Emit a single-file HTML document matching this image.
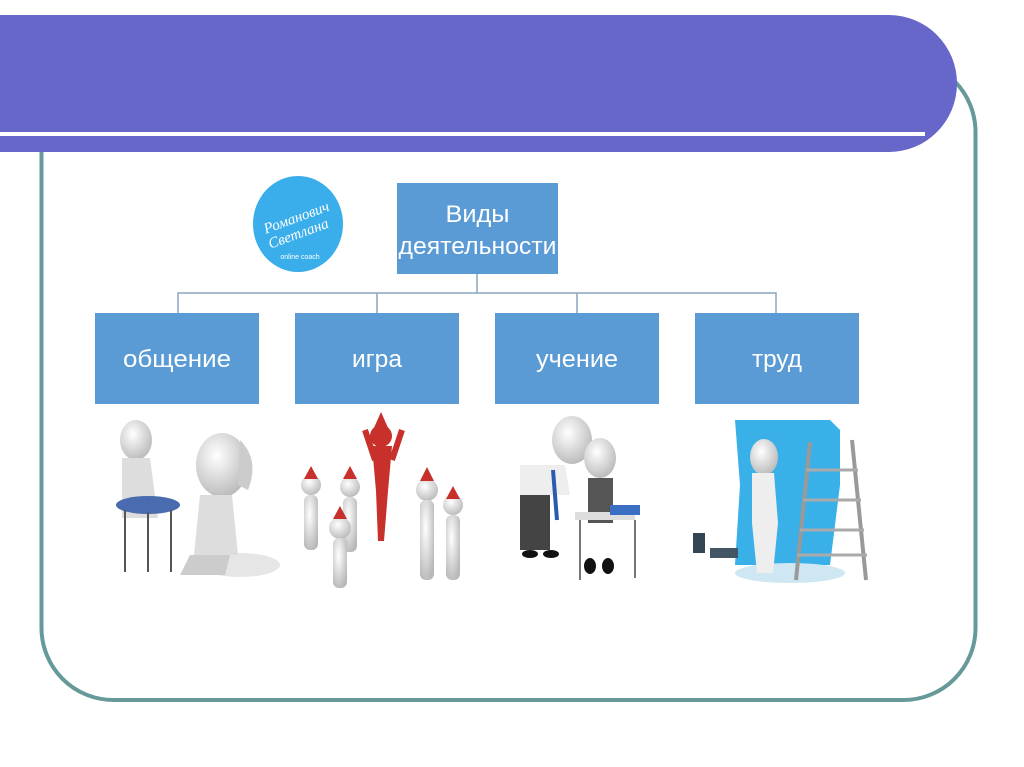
<!DOCTYPE html>
<html><head><meta charset="utf-8"><style>
html,body{margin:0;padding:0;background:#fff;width:1024px;height:767px;overflow:hidden;font-family:"Liberation Sans",sans-serif}
</style></head><body>
<svg width="1024" height="767" viewBox="0 0 1024 767" xmlns="http://www.w3.org/2000/svg">
<defs>
<radialGradient id="g" cx="0.4" cy="0.35" r="0.7"><stop offset="0" stop-color="#fff"/><stop offset="1" stop-color="#b8b8b8"/></radialGradient>
</defs>
<rect x="41.5" y="60" width="934" height="640" rx="72" fill="none" stroke="#66999a" stroke-width="4"/>
<path d="M0 15 H889 A68 68.5 0 0 1 889 152 H0 Z" fill="#6767c9"/>
<rect x="0" y="132" width="925" height="4" fill="#fff"/>
<!-- logo -->
<ellipse cx="298" cy="224" rx="45" ry="48" fill="#3aaeea"/>
<text x="298" y="222" fill="#fff" font-family="Liberation Serif" font-style="italic" font-size="15" text-anchor="middle" transform="rotate(-20 298 222)">Романович</text>
<text x="300" y="238" fill="#fff" font-family="Liberation Serif" font-style="italic" font-size="15" text-anchor="middle" transform="rotate(-20 300 238)">Светлана</text>
<text x="300" y="259" fill="#fff" font-size="7" text-anchor="middle">online coach</text>
<!-- tree -->
<rect x="397" y="183" width="161" height="91" fill="#5b9bd5"/>
<text x="477.5" y="222" fill="#fff" font-size="24" text-anchor="middle" textLength="64" lengthAdjust="spacingAndGlyphs">Виды</text>
<text x="477.5" y="254" fill="#fff" font-size="24" text-anchor="middle" textLength="158" lengthAdjust="spacingAndGlyphs">деятельности</text>
<g stroke="#8aa6bd" stroke-width="1.5" fill="none">
<path d="M477 274V293M178 313V293H776V313M377 293V313M577 293V313"/>
</g>
<g fill="#5b9bd5">
<rect x="95" y="313" width="164" height="91"/><rect x="295" y="313" width="164" height="91"/>
<rect x="495" y="313" width="164" height="91"/><rect x="695" y="313" width="164" height="91"/>
</g>
<g fill="#fff" font-size="24" text-anchor="middle">
<text x="177" y="367" textLength="108" lengthAdjust="spacingAndGlyphs">общение</text><text x="377" y="367" textLength="50" lengthAdjust="spacingAndGlyphs">игра</text>
<text x="577" y="367" textLength="82" lengthAdjust="spacingAndGlyphs">учение</text><text x="777" y="367" textLength="50" lengthAdjust="spacingAndGlyphs">труд</text>
</g>
<!-- figures: communication -->
<g>
<ellipse cx="240" cy="565" rx="40" ry="12" fill="#e6e6e6"/>
<ellipse cx="136" cy="440" rx="16" ry="20" fill="url(#g)"/>
<path d="M122 458 h28 l8 60 h-36z" fill="#ddd"/>
<ellipse cx="148" cy="505" rx="32" ry="9" fill="#4a6bb0"/>
<path d="M148 512 v60 M125 510 v62 M171 510 v62" stroke="#555" stroke-width="2"/>
<ellipse cx="222" cy="465" rx="26" ry="32" fill="url(#g)"/>
<path d="M240 440 q20 20 8 50 l-10 -5z" fill="#ccc"/>
<path d="M200 495 h32 l6 60 h-44z" fill="#ddd"/>
<path d="M190 555 h40 l-5 20 h-45z" fill="#ccc"/>
</g>
<!-- play -->
<g fill="url(#g)">
<circle cx="311" cy="485" r="10"/><rect x="304" y="495" width="14" height="55" rx="6"/>
<circle cx="350" cy="487" r="10"/><rect x="343" y="497" width="14" height="55" rx="6"/>
<circle cx="340" cy="528" r="11"/><rect x="333" y="538" width="14" height="50" rx="6"/>
<circle cx="427" cy="490" r="11"/><rect x="420" y="500" width="14" height="80" rx="6"/>
<circle cx="453" cy="505" r="10"/><rect x="446" y="515" width="14" height="65" rx="6"/>
</g>
<g fill="#c8302c">
<circle cx="381" cy="436" r="11"/><path d="M372 446 h20 l-4 45 l-4 50 h-6 l-2 -50z"/>
<path d="M365 430 l10 30 M402 430 l-10 30" stroke="#c8302c" stroke-width="6"/>
<path d="M381 412 l-8 18 h16z"/><path d="M311 466 l-7 13 h14z"/><path d="M350 466 l-7 13 h14z"/>
<path d="M340 506 l-7 13 h14z"/><path d="M427 467 l-7 14 h14z"/><path d="M453 486 l-7 13 h14z"/>
</g>
<!-- study -->
<g>
<ellipse cx="572" cy="440" rx="20" ry="24" fill="url(#g)"/>
<ellipse cx="600" cy="458" rx="16" ry="20" fill="url(#g)"/>
<path d="M520 465 h45 l5 30 h-50z" fill="#eee"/>
<path d="M520 495 h30 v55 h-30z" fill="#444"/>
<path d="M553 470 l4 50" stroke="#2a5cad" stroke-width="4"/>
<path d="M588 478 h25 v45 h-25z" fill="#555"/>
<path d="M575 512 h60 v8 h-60z" fill="#ddd"/><path d="M610 505 h30 v10 h-30z" fill="#3a6fc4"/>
<path d="M580 520 v60 M635 520 v58" stroke="#777" stroke-width="2"/>
<ellipse cx="530" cy="554" rx="8" ry="4" fill="#111"/><ellipse cx="551" cy="554" rx="8" ry="4" fill="#111"/>
<ellipse cx="590" cy="566" rx="6" ry="8" fill="#111"/><ellipse cx="608" cy="566" rx="6" ry="8" fill="#111"/>
</g>
<!-- work -->
<g>
<path d="M735 420 h95 l10 10 v55 l-10 80 h-95 l5 -80z" fill="#3ab0e8"/>
<ellipse cx="790" cy="573" rx="55" ry="10" fill="#cfe6f3"/>
<ellipse cx="764" cy="457" rx="14" ry="18" fill="url(#g)"/>
<path d="M752 473 h22 l4 50 l-5 50 h-16 l-5 -50z" fill="#eee"/>
<path d="M810 442 l-14 138 M852 440 l14 140" stroke="#999" stroke-width="4"/>
<path d="M806 470h52M803 500h58M800 530h64M797 555h70" stroke="#aaa" stroke-width="3"/>
<rect x="693" y="533" width="12" height="20" fill="#345"/><rect x="710" y="548" width="28" height="10" fill="#456"/>
</g>
</svg>
</body></html>
